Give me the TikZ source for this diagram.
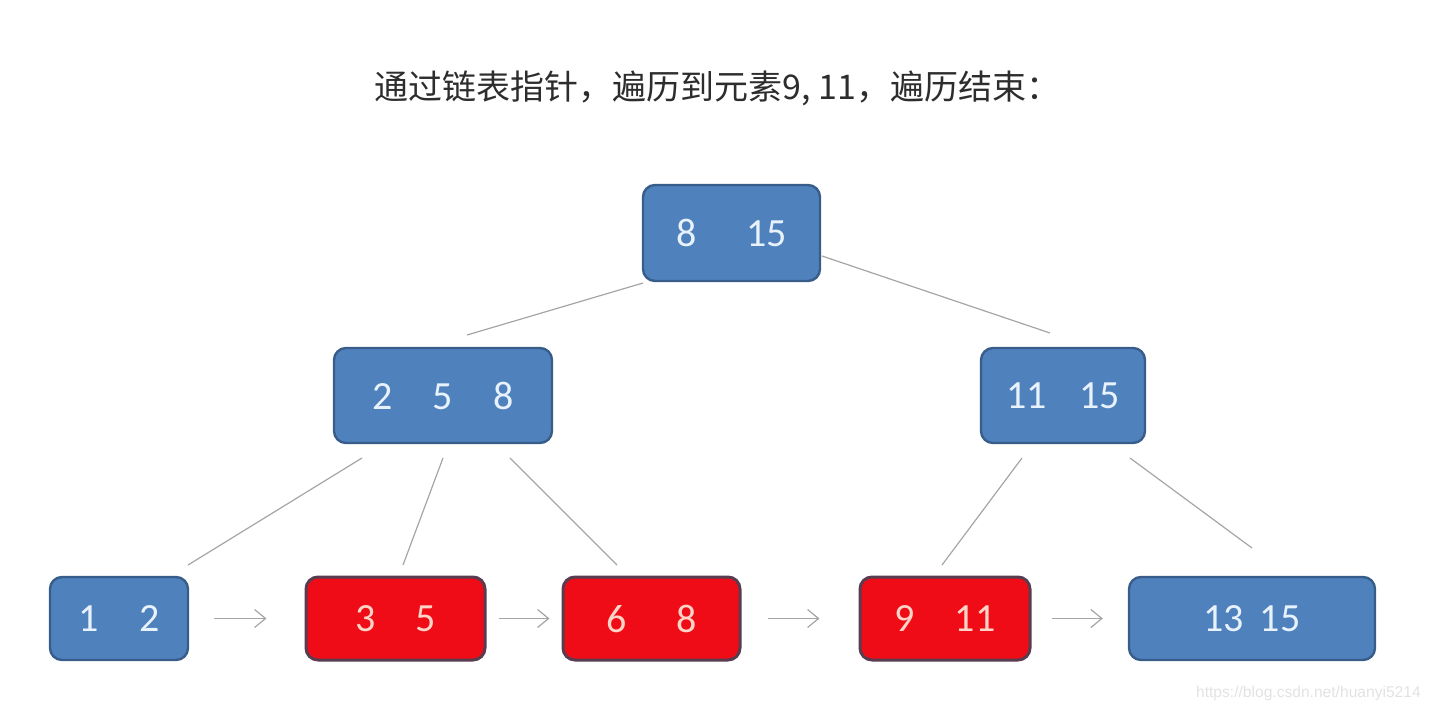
\documentclass[tikz,border=0pt]{standalone}
\usepackage{fontspec}
\setmainfont{Carlito}
\newfontfamily\cjk{Noto Sans CJK SC}
\newfontfamily\webfont{Liberation Sans}
\usetikzlibrary{arrows.meta,positioning}
\definecolor{keyblue}{RGB}{79,129,189}
\definecolor{keyblueline}{RGB}{56,93,138}
\definecolor{hitred}{RGB}{240,12,22}
\definecolor{hitredline}{RGB}{90,60,80}
\definecolor{linkgray}{RGB}{165,165,165}
\definecolor{titlegray}{RGB}{45,45,45}
\definecolor{keytext}{RGB}{232,242,252}
\definecolor{hittext}{RGB}{255,212,200}

\begin{document}
\begin{tikzpicture}
          [x=0.5pt,y=-0.5pt,semithick]
          \tikzstyle{key}=[rectangle,rounded corners=6pt,fill=keyblue,draw=keyblueline,line width=1.2pt,text=keytext,font=\fontsize{20}{24}\selectfont,inner sep=0pt,minimum height=41.5pt]
          \tikzstyle{hit}=[key,fill=hitred,draw=hitredline,line width=1.5pt,text=hittext]
          \tikzstyle{tree}=[draw=linkgray,line width=0.6pt]
          \tikzstyle{chain}=[draw=linkgray,line width=0.6pt,-{Straight Barb[length=5.5pt,width=9pt]}]

          \useasboundingbox (0,0) rectangle (1438,712);

          \node[font=\cjk\fontsize{17}{20}\selectfont,text=titlegray] (title) at (717.5,88) {通过链表指针，遍历到元素9, 11，遍历结束：};

          % tree levels
          \node[key,minimum width=88.5pt,minimum height=48pt] (root) at (731.5,233) {8\hspace{1.25em}15};
          \node[key,minimum width=109pt,minimum height=47.5pt] (n258) at (443,395.5) {2\quad 5\quad 8};
          \node[key,minimum width=82pt,minimum height=47.5pt] (n1115) at (1063,395.5) {11\hspace{0.8em}15};

          % leaves
          \node[key,minimum width=69pt] (l12) at (119,618.5) {1\quad 2};
          \node[hit,minimum width=89.5pt] (l35) at (395.5,618.5) {3\quad 5};
          \node[hit,minimum width=88.5pt] (l68) at (651.5,618.5) {6\hspace{1.25em}8};
          \node[hit,minimum width=85pt] (l911) at (945,618.5) {9\quad 11};
          \node[key,minimum width=123pt] (l1315) at (1252,618.5) {13\hspace{0.4em}15};

          \node[font=\webfont\fontsize{7.8}{9}\selectfont,text={rgb,255:red,226;green,226;blue,226},anchor=east] (mark) at (1428,693) {https://blog.csdn.net/huanyi5214};

          % loose ends of the tree links
          \coordinate (root-l) at (643,283);
          \coordinate (root-r) at (822,256);
          \coordinate (n258-t) at (467,335);
          \coordinate (n1115-t) at (1050,333);
          \coordinate (n258-a) at (362,458);
          \coordinate (n258-b) at (443,458);
          \coordinate (n258-c) at (510,458);
          \coordinate (n1115-a) at (1022,458);
          \coordinate (n1115-b) at (1130,458);
          \coordinate (l12-t) at (188,565);
          \coordinate (l35-t) at (403,565);
          \coordinate (l68-t) at (617,565);
          \coordinate (l911-t) at (942,565);
          \coordinate (l1315-t) at (1252,548);

          \draw[tree] (root-l) -- (n258-t);
          \draw[tree] (root-r) -- (n1115-t);
          \draw[tree] (n258-a) -- (l12-t);
          \draw[tree] (n258-b) -- (l35-t);
          \draw[tree] (n258-c) -- (l68-t);
          \draw[tree] (n1115-a) -- (l911-t);
          \draw[tree] (n1115-b) -- (l1315-t);

          % leaf chain
          \draw[chain] ([xshift=12.5pt]l12.east) -- ([xshift=-19pt]l35.west);
          \draw[chain] ([xshift=6pt]l35.east) -- ([xshift=-6pt]l68.west);
          \draw[chain] ([xshift=13pt]l68.east) -- ([xshift=-19.5pt]l911.west);
          \draw[chain] ([xshift=10pt]l911.east) -- ([xshift=-12.5pt]l1315.west);
        \end{tikzpicture}
\end{document}
